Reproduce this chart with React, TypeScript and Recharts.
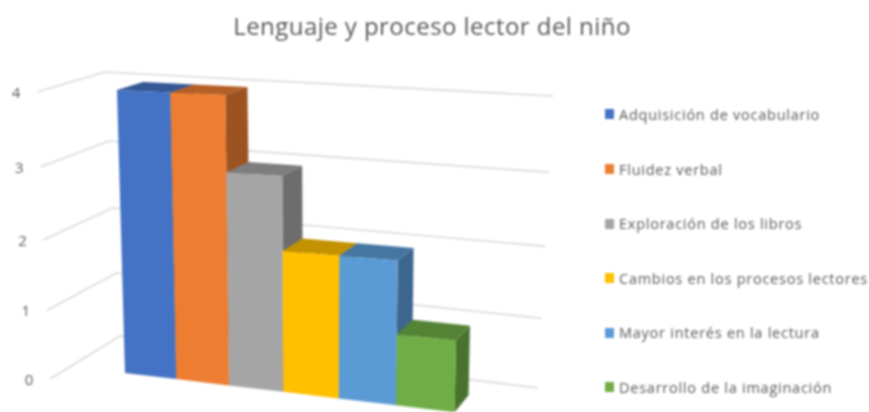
import React from "react";
import { BarChart, Bar, XAxis, YAxis, CartesianGrid, Legend } from "recharts";

const titleText = "Lenguaje y proceso lector del niño";
const seriesNames = [
  "Adquisición de vocabulario",
  "Fluidez verbal",
  "Exploración de los libros",
  "Cambios en los procesos lectores",
  "Mayor interés en la lectura",
  "Desarrollo de la imaginación",
];
const seriesValues = [4, 4, 3, 2, 2, 1];
const seriesColors = ["#4472C4", "#ED7D31", "#A5A5A5", "#FFC000", "#5B9BD5", "#70AD47"];
const yTicks = [0, 1, 2, 3, 4];

const row: Record<string, number | string> = { name: "Lenguaje" };
seriesNames.forEach((n, i) => (row[n] = seriesValues[i]));
const data = [row];

const W = 869;
const H = 412;
const YW = 10;
const M = { left: 90, right: 100, top: 100, bottom: 100 };
const PX = M.left + YW;
const PW = W - PX - M.right;
const PH = H - M.top - M.bottom;
const FONT = "'Open Sans', sans-serif";

type Pt = [number, number];
const lerp = (a: number, b: number, t: number) => a + (b - a) * t;
const bend = (t: number, k: number) => t + k * t * (1 - t);
const toU = (x: number) => (x - PX) / PW;
const toT = (y: number) => (M.top + PH - y) / PH;

// Perspective view of the front plane of the bars
const project = (uRaw: number, tRaw: number): Pt => {
  const u = bend(uRaw, -0.08);
  const t = bend(tRaw, -0.085);
  const bx = lerp(125, 453, u);
  const by = lerp(373, 412, u);
  const tx = lerp(117, 459, u);
  const ty = lerp(90, 106, u);
  return [lerp(bx, tx, t), lerp(by, ty, t)];
};
const back = (uRaw: number, tRaw: number): Pt => {
  const [x, y] = project(uRaw, tRaw);
  return [x + 26 - 12 * uRaw, y - (17 - 9 * tRaw)];
};
const pts = (list: Pt[]) => list.map((p) => p.map((n) => n.toFixed(1)).join(",")).join(" ");

const shade = (hex: string, f: number) => {
  const n = parseInt(hex.slice(1), 16);
  const c = [(n >> 16) & 255, (n >> 8) & 255, n & 255].map((v) => Math.round(v * f));
  return `rgb(${c[0]},${c[1]},${c[2]})`;
};

const Bar3D = (props: any) => {
  const { x, y, width, height, fill } = props;
  const u0 = toU(x);
  const u1 = toU(x + width);
  const t1 = toT(y);
  const t0 = toT(y + height);
  return (
    <g>
      <polygon
        points={pts([project(u1, t1), back(u1, t1), back(u1, t0), project(u1, t0)])}
        fill={shade(fill, 0.66)}
      />
      <polygon
        points={pts([project(u0, t1), back(u0, t1), back(u1, t1), project(u1, t1)])}
        fill={shade(fill, 0.76)}
      />
      <polygon
        points={pts([project(u0, t1), project(u1, t1), project(u1, t0), project(u0, t0)])}
        fill={fill}
      />
    </g>
  );
};

// Back wall and left wall of the 3D box
const wall = (tRaw: number) => {
  const t = bend(tRaw, -0.06);
  const left: Pt = [lerp(50, 37, tRaw), lerp(379, 92, t)];
  const corner: Pt = [lerp(120, 105, tRaw), lerp(336, 72, t)];
  const right: Pt = [lerp(538, 553, tRaw), lerp(388, 96, t)];
  return { left, corner, right };
};

const GridLine = (props: any) => {
  const { left, corner, right } = wall(toT(props.y1));
  return (
    <polyline
      key={props.key ?? props.index}
      points={pts([left, corner, right])}
      fill="none"
      stroke="#D9D9D9"
      strokeWidth={1.6}
    />
  );
};

const YTick = (props: any) => {
  const tRaw = toT(props.y);
  const { left } = wall(tRaw);
  return (
    <text
      x={left[0] - 21}
      y={left[1] + 6}
      textAnchor="middle"
      fontFamily={FONT}
      fontSize={15}
      fill="#595959"
    >
      {props.payload.value}
    </text>
  );
};

const LegendBox = (props: any) => (
  <div style={{ fontFamily: FONT }}>
    {(props.payload || []).map((e: any) => (
      <div key={e.value} style={{ height: 54.6, display: "flex", alignItems: "center", whiteSpace: "nowrap" }}>
        <span style={{ width: 9, height: 10, background: e.color, marginRight: 5, flex: "none" }} />
        <span style={{ fontSize: 14.5, letterSpacing: 0.75, color: "#595959" }}>{e.value}</span>
      </div>
    ))}
  </div>
);

export default function App() {
  return (
    <div
      style={{
        position: "absolute",
        left: 0,
        top: 0,
        width: W,
        height: H,
        background: "#fff",
        overflow: "hidden",
        filter: "blur(0.8px)",
      }}
    >
      <BarChart width={W} height={H} data={data} margin={M} barCategoryGap={0} barGap={0}>
        <CartesianGrid horizontal={GridLine} vertical={false} />
        <XAxis dataKey="name" hide />
        <YAxis
          domain={[0, 4]}
          ticks={yTicks}
          width={YW}
          axisLine={false}
          tickLine={false}
          tick={YTick}
          interval={0}
        />
        {seriesNames.map((n, i) => (
          <Bar key={n} dataKey={n} name={n} fill={seriesColors[i]} shape={Bar3D} isAnimationActive={false} />
        ))}
        <Legend
          layout="vertical"
          align="center"
          verticalAlign="middle"
          itemSorter={null}
          content={LegendBox}
          wrapperStyle={{ position: "absolute", left: 605, top: 87.2, width: 264, height: 330 }}
        />
        <text
          x={432}
          y={35}
          textAnchor="middle"
          fontFamily={FONT}
          fontSize={24}
          letterSpacing={0.45}
          fill="#595959"
        >
          {titleText}
        </text>
      </BarChart>
    </div>
  );
}
